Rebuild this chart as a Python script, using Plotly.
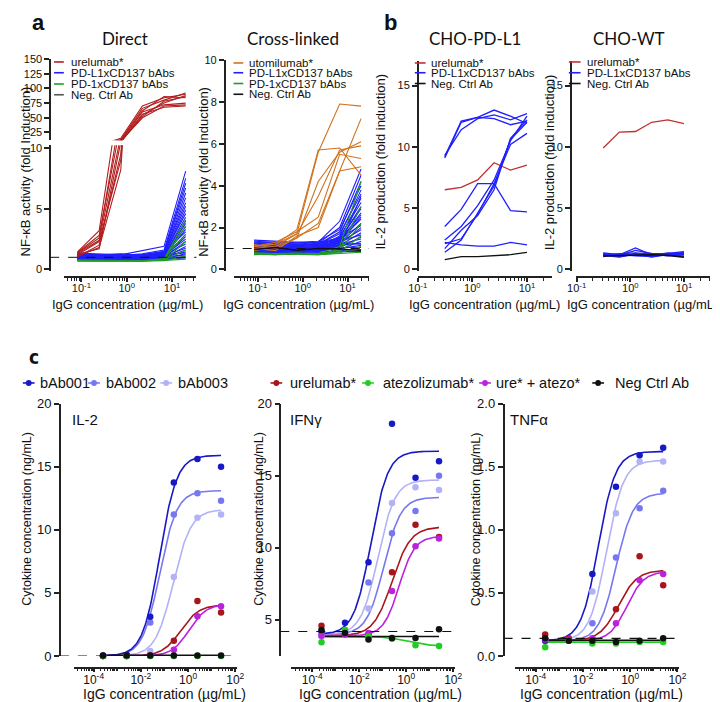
import numpy as np
import plotly.graph_objects as go

W, H = 720, 702
FONT = "Liberation Sans, Arial, sans-serif"
TFONT = "Lato, Carlito, sans-serif"


def px(x):
    return x / W


def py(y):
    return 1 - y / H


# ======================= DATA =======================
# ---- panel a : NF-kB reporter ----
conc_a = [0.082, 0.247, 0.74, 2.22, 6.67, 20]

direct_urelumab = [
    [1.45, 3.2, 15.0, 70, 84, 90],
    [1.35, 2.6, 13.0, 66, 80, 92],
    [1.20, 2.3, 9.0, 52, 78, 86],
    [1.10, 1.8, 8.2, 55, 75, 88],
    [1.40, 2.8, 12.0, 62, 86, 84],
    [1.25, 1.7, 10.5, 50, 70, 72],
    [1.30, 2.4, 11.0, 60, 72, 75],
    [1.05, 2.0, 9.5, 56, 68, 70],
]
direct_pdl1 = [
    [1.25, 1.10, 1.20, 1.55, 1.90, 8.10], [1.10, 1.05, 1.15, 1.30, 1.60, 7.50],
    [0.95, 1.00, 1.05, 1.10, 1.45, 7.10], [1.30, 1.20, 1.25, 1.20, 1.50, 6.70],
    [1.05, 0.95, 1.00, 1.05, 1.35, 6.30], [0.90, 0.90, 0.95, 1.00, 1.30, 5.90],
    [1.15, 1.10, 1.05, 1.10, 1.40, 5.50], [1.00, 1.05, 1.00, 0.95, 1.25, 5.20],
    [0.85, 0.90, 0.85, 0.95, 1.20, 4.90], [1.20, 1.15, 1.10, 1.15, 1.30, 4.60],
    [0.95, 0.85, 0.90, 0.90, 1.15, 4.30], [1.10, 1.00, 1.05, 1.00, 1.20, 4.00],
    [0.80, 0.85, 0.80, 0.85, 1.10, 3.80], [1.05, 1.10, 1.00, 1.05, 1.25, 3.50],
    [0.90, 0.95, 0.95, 0.90, 1.10, 3.30], [1.35, 1.25, 1.20, 1.25, 1.45, 3.10],
    [1.00, 0.90, 0.95, 1.00, 1.05, 2.90], [0.85, 0.80, 0.90, 0.85, 1.00, 2.70],
    [1.15, 1.05, 1.10, 1.05, 1.15, 2.50], [0.95, 1.00, 0.90, 0.95, 1.00, 2.30],
    [1.05, 0.95, 1.00, 1.10, 1.20, 2.10], [0.80, 0.85, 0.85, 0.80, 0.95, 1.90],
    [1.20, 1.10, 1.15, 1.10, 1.10, 1.75], [0.90, 0.90, 0.85, 0.90, 0.95, 1.60],
    [1.00, 1.05, 1.05, 1.00, 1.05, 1.45], [0.85, 0.95, 0.90, 0.95, 0.90, 1.30],
    [1.10, 1.00, 0.95, 1.05, 1.00, 1.20], [0.95, 0.85, 0.80, 0.85, 0.85, 1.05],
    [0.75, 0.80, 0.80, 0.75, 0.85, 0.95], [1.25, 1.20, 1.30, 1.15, 1.25, 1.35],
]
direct_pd1 = [
    [0.75, 0.70, 0.72, 0.70, 0.85, 4.10], [0.70, 0.72, 0.70, 0.68, 0.80, 3.60],
    [0.78, 0.75, 0.74, 0.72, 0.90, 2.90], [0.72, 0.68, 0.70, 0.70, 0.75, 2.30],
    [0.74, 0.72, 0.76, 0.74, 0.78, 1.60], [0.70, 0.70, 0.68, 0.66, 0.72, 1.10],
    [0.76, 0.74, 0.72, 0.70, 0.74, 0.85],
]
direct_neg = [1.00, 0.95, 1.00, 0.98, 1.00, 1.00]

cross_utomilumab = [
    [1.10, 1.20, 1.90, 5.70, 5.80, 4.50],
    [1.00, 1.10, 1.70, 5.60, 7.90, 7.80],
    [1.20, 1.00, 1.50, 4.20, 5.60, 6.10],
    [1.10, 1.30, 1.80, 2.50, 5.50, 5.30],
    [0.90, 1.10, 1.50, 2.20, 4.70, 7.20],
    [1.00, 0.90, 1.60, 2.00, 4.70, 4.90],
    [1.10, 1.20, 1.70, 3.50, 5.70, 5.90],
]
cross_pdl1 = [
    [1.30, 1.25, 1.20, 1.30, 2.30, 4.80], [1.10, 1.15, 1.10, 1.25, 2.00, 4.50],
    [0.95, 1.00, 1.05, 1.20, 1.80, 4.20], [1.20, 1.25, 1.30, 1.35, 1.90, 4.00],
    [0.85, 0.90, 0.95, 1.05, 1.60, 3.80], [1.05, 1.10, 1.15, 1.20, 1.70, 3.60],
    [0.90, 0.95, 0.90, 1.00, 1.50, 3.40], [1.15, 1.05, 1.10, 1.15, 1.55, 3.20],
    [0.80, 0.85, 0.90, 0.95, 1.40, 3.00], [1.25, 1.20, 1.15, 1.25, 1.45, 2.90],
    [1.00, 0.95, 1.00, 1.05, 1.35, 2.70], [0.75, 0.80, 0.85, 0.90, 1.30, 2.50],
    [1.10, 1.00, 1.05, 1.10, 1.40, 2.40], [0.95, 0.90, 0.95, 1.00, 1.25, 2.20],
    [1.35, 1.30, 1.25, 1.30, 1.50, 2.10], [0.85, 0.80, 0.85, 0.90, 1.20, 2.00],
    [1.05, 1.10, 1.00, 1.05, 1.30, 1.90], [0.90, 0.85, 0.90, 0.85, 1.15, 1.75],
    [1.20, 1.15, 1.20, 1.15, 1.35, 1.65], [0.80, 0.75, 0.80, 0.85, 1.05, 1.55],
    [1.00, 1.05, 1.10, 1.00, 1.20, 1.45], [0.70, 0.75, 0.75, 0.80, 0.95, 1.35],
    [1.15, 1.20, 1.05, 1.10, 1.15, 1.25], [0.90, 0.95, 0.85, 0.90, 1.00, 1.15],
    [1.10, 1.00, 0.95, 1.00, 1.05, 1.05], [0.75, 0.70, 0.80, 0.75, 0.90, 0.95],
    [1.25, 1.30, 1.20, 1.20, 1.25, 1.20], [0.85, 0.90, 0.75, 0.80, 0.85, 0.85],
    [1.40, 1.35, 1.30, 1.25, 1.40, 2.60], [0.95, 1.00, 1.05, 0.95, 1.10, 3.50],
]
cross_pd1 = [
    [0.78, 0.72, 0.75, 0.76, 1.10, 4.20], [0.75, 0.74, 0.72, 0.74, 0.95, 3.00],
    [0.80, 0.76, 0.78, 0.75, 0.90, 2.20], [0.72, 0.70, 0.74, 0.72, 0.85, 1.60],
    [0.76, 0.74, 0.70, 0.70, 0.80, 1.10], [0.74, 0.72, 0.73, 0.71, 0.76, 0.82],
]
cross_neg = [0.95, 1.05, 0.92, 1.00, 0.98, 0.90]
baseline_a = 1.0

# ---- panel b : IL-2 production ----
conc_b = [0.3125, 0.625, 1.25, 2.5, 5, 10]
pdl1_urelumab = [6.5, 6.7, 7.3, 8.7, 8.1, 8.5]
pdl1_babs = [
    [9.2, 12.1, 12.4, 13.0, 12.5, 11.9],
    [9.3, 11.4, 12.3, 12.6, 12.2, 12.7],
    [9.1, 12.0, 12.4, 12.3, 11.8, 12.1],
    [3.5, 4.9, 7.0, 7.0, 4.8, 4.7],
    [2.4, 3.5, 5.2, 7.3, 10.5, 12.5],
    [2.1, 2.5, 4.5, 7.0, 10.2, 11.1],
    [1.7, 3.2, 4.4, 6.5, 10.7, 12.2],
    [1.4, 2.4, 4.6, 6.8, 10.6, 12.0],
    [2.2, 2.0, 1.9, 1.9, 2.2, 2.0],
]
pdl1_neg = [0.8, 1.05, 1.05, 1.1, 1.2, 1.4]
wt_urelumab = [9.9, 11.2, 11.25, 12.0, 12.2, 11.9]
wt_babs = [
    [1.35, 1.20, 1.75, 1.20, 1.30, 1.45], [1.25, 1.15, 1.55, 1.30, 1.25, 1.35],
    [1.20, 1.05, 1.30, 1.00, 1.20, 1.40], [1.10, 1.25, 1.15, 1.15, 1.35, 1.20],
    [1.30, 1.10, 1.20, 1.25, 1.15, 1.10], [1.15, 1.00, 1.25, 1.20, 1.20, 1.30],
    [1.05, 1.20, 1.10, 1.05, 1.25, 1.05], [1.20, 1.30, 1.35, 1.25, 1.10, 1.25],
]
wt_neg = [1.10, 1.15, 1.20, 1.20, 1.15, 1.00]

# ---- panel c : cytokines ----
conc_c = [0.00025, 0.0025, 0.025, 0.25, 2.5, 25]
series_c = ["bAb001", "bAb002", "bAb003", "urelumab*", "atezolizumab*",
            "ure* + atezo*", "Neg Ctrl Ab"]

il2_points = [
    [0.05, 0.10, 3.10, 13.75, 15.60, 15.00],
    [0.00, 0.05, 2.65, 11.20, 12.90, 12.30],
    [0.00, 0.00, 0.40, 6.25, 10.95, 11.20],
    [0.00, 0.00, 0.05, 1.20, 4.35, 3.45],
    [0.00, 0.00, 0.00, 0.00, 0.00, 0.00],
    [0.00, 0.00, 0.05, 0.50, 3.15, 3.95],
    [0.05, 0.05, 0.05, 0.05, 0.05, 0.05],
]
il2_bottom = [0.0, 0.0, 0.0, 0.0, 0.0, 0.0, 0.05]
il2_top = [15.9, 13.1, 11.6, 4.05, 0.0, 4.1, 0.05]
il2_logec50 = [-1.2, -1.2, -0.63, -0.31, 0.0, 0.04, 0.0]
il2_hill = [1.2, 1.2, 1.15, 1.13, 1.0, 1.2, 1.0]

ifn_points = [
    [4.20, 4.80, 9.00, 18.60, 14.85, 16.00],
    [3.95, 4.30, 7.60, 11.00, 12.55, 15.00],
    [3.85, 4.10, 5.80, 13.10, 14.20, 14.00],
    [4.60, 4.00, 4.00, 8.30, 11.60, 10.75],
    [3.45, 4.30, 3.85, 3.70, 3.25, 3.20],
    [3.90, 4.00, 4.10, 7.00, 10.10, 10.65],
    [4.30, 4.10, 3.65, 3.75, 3.75, 4.35],
]
ifn_bottom = [4.0, 4.0, 4.0, 3.9, 3.85, 3.9, 3.85]
ifn_top = [16.7, 13.5, 14.7, 11.45, 3.2, 10.8, 3.85]
ifn_logec50 = [-1.5, -0.95, -1.2, -0.6, 0.0, -0.3, 0.0]
ifn_hill = [1.2, 1.2, 1.2, 1.1, 1.0, 1.3, 1.0]

tnf_points = [
    [0.12, 0.13, 0.65, 1.34, 1.59, 1.65],
    [0.12, 0.12, 0.26, 0.78, 1.17, 1.31],
    [0.12, 0.13, 0.51, 1.13, 1.54, 1.54],
    [0.17, 0.14, 0.13, 0.37, 0.79, 0.56],
    [0.07, 0.12, 0.10, 0.10, 0.11, 0.11],
    [0.13, 0.13, 0.14, 0.26, 0.60, 0.65],
    [0.14, 0.12, 0.12, 0.11, 0.12, 0.14],
]
tnf_bottom = [0.12, 0.12, 0.12, 0.12, 0.11, 0.12, 0.125]
tnf_top = [1.62, 1.29, 1.55, 0.68, 0.11, 0.67, 0.125]
tnf_logec50 = [-1.35, -0.6, -1.0, -0.5, 0.0, -0.14, 0.0]
tnf_hill = [1.2, 1.2, 1.2, 1.1, 1.0, 1.2, 1.0]

baseline_c = [0.0, 4.2, 0.14]

# ======================= STYLE =======================
RED = "#b21e1e"
BLUE = "#1f1fff"
GREEN = "#1f9e1f"
ORANGE = "#d0721e"
NEG = "#222222"
colors_c = ["#1818c4", "#7777f2", "#b2b2f7", "#a8161b", "#22cc22", "#bb22dd", "#111111"]

fig = go.Figure()


def add_lines(conc, rows, color, xa, ya, width=1.1):
    for r in rows:
        fig.add_trace(go.Scatter(x=conc, y=r, mode="lines",
                                 line=dict(color=color, width=width),
                                 xaxis=xa, yaxis=ya, hoverinfo="skip",
                                 showlegend=False))


# --- Direct ---
add_lines(conc_a, [direct_neg], NEG, "x", "y")
add_lines(conc_a, direct_pdl1, BLUE, "x", "y")
add_lines(conc_a, direct_pd1, GREEN, "x", "y")
add_lines(conc_a, direct_urelumab, RED, "x", "y")
add_lines(conc_a, direct_urelumab, RED, "x", "y2")
# --- Cross-linked ---
add_lines(conc_a, cross_pdl1, BLUE, "x2", "y3")
add_lines(conc_a, cross_pd1, GREEN, "x2", "y3")
add_lines(conc_a, cross_utomilumab, ORANGE, "x2", "y3")
add_lines(conc_a, [cross_neg], "#111111", "x2", "y3", 1.4)
# --- CHO-PD-L1 ---
add_lines(conc_b, [pdl1_urelumab], "#c03030", "x3", "y4", 1.3)
add_lines(conc_b, pdl1_babs, BLUE, "x3", "y4", 1.3)
add_lines(conc_b, [pdl1_neg], "#111111", "x3", "y4", 1.3)
# --- CHO-WT ---
add_lines(conc_b, [wt_urelumab], "#c03030", "x4", "y5", 1.3)
add_lines(conc_b, wt_babs, BLUE, "x4", "y5", 1.3)
add_lines(conc_b, [wt_neg], "#111111", "x4", "y5", 1.6)


def fit_curve(bottom, top, ec, hill):
    xs = np.logspace(np.log10(conc_c[0]), np.log10(conc_c[-1]), 160)
    ys = bottom + (top - bottom) / (1 + 10 ** ((ec - np.log10(xs)) * hill))
    return xs, ys


def add_cyto(points, bottom, top, ec, hill, xa, ya):
    order = [1, 2, 0, 3, 5, 4, 6]
    for i in order:
        xs, ys = fit_curve(bottom[i], top[i], ec[i], hill[i])
        fig.add_trace(go.Scatter(x=xs, y=ys, mode="lines",
                                 line=dict(color=colors_c[i], width=1.6),
                                 xaxis=xa, yaxis=ya, hoverinfo="skip",
                                 showlegend=False, cliponaxis=False))
    for i in order:
        fig.add_trace(go.Scatter(x=conc_c, y=points[i], mode="markers",
                                 marker=dict(color=colors_c[i], size=6.5),
                                 xaxis=xa, yaxis=ya, hoverinfo="skip",
                                 showlegend=False, cliponaxis=False))


add_cyto(il2_points, il2_bottom, il2_top, il2_logec50, il2_hill, "x5", "y6")
add_cyto(ifn_points, ifn_bottom, ifn_top, ifn_logec50, ifn_hill, "x6", "y7")
add_cyto(tnf_points, tnf_bottom, tnf_top, tnf_logec50, tnf_hill, "x7", "y8")

# ======================= AXES =======================
AXC = "#222222"
minor_ab = [k * 10.0 ** e for e in range(-2, 3) for k in range(2, 10)]
minor_c = [k * 10.0 ** e for e in range(-6, 3) for k in range(2, 10)] + \
          [1e-5, 1e-3, 1e-1, 10]


def xax(x0, x1, rng, ypos, vals, fs, minor):
    texts = ["10<sup>%d</sup>" % int(round(np.log10(v))) for v in vals]
    return dict(type="log", domain=[px(x0), px(x1)], range=rng, anchor="free",
                position=py(ypos), showline=True, linecolor=AXC, linewidth=1.5,
                ticks="outside", ticklen=4, tickwidth=1.5, tickcolor=AXC,
                tickvals=vals, ticktext=texts, ticklabelstandoff=-3,
                tickfont=dict(size=fs, family=FONT, color="#111"),
                minor=dict(tickvals=minor, ticks="outside", ticklen=2.5,
                           tickwidth=1, tickcolor=AXC),
                showgrid=False, zeroline=False, fixedrange=True)


def yax(y0, y1, rng, xpos, vals, fs, fmt=None):
    d = dict(domain=[py(y0), py(y1)], range=rng, anchor="free", position=px(xpos),
             showline=True, linecolor=AXC, linewidth=1.5, ticks="outside",
             ticklen=5, tickwidth=1.5, tickcolor=AXC, tickvals=vals,
             tickfont=dict(size=fs, family=FONT, color="#111"),
             showgrid=False, zeroline=False, fixedrange=True)
    if fmt:
        d["tickformat"] = fmt
    return d


layout = dict(
    width=W, height=H, margin=dict(l=0, r=0, t=0, b=0),
    paper_bgcolor="white", plot_bgcolor="white", showlegend=False,
    xaxis=xax(47, 183, [-1.387, 1.538], 268, [0.1, 1, 10], 11, minor_ab),
    yaxis=yax(262, 133, [-0.16, 10.24], 33, [0, 5, 10], 11),
    yaxis2=yax(128, 45, [11.67, 150], 33, [25, 50, 75, 100, 125, 150], 11),
    xaxis2=xax(222, 360, [-1.522, 1.478], 268, [0.1, 1, 10], 11, minor_ab),
    yaxis3=yax(262, 46, [-0.093, 10], 212, [0, 2, 4, 6, 8, 10], 11),
    xaxis3=xax(410, 548, [-1.0, 1.464], 268, [0.1, 1, 10], 11, minor_ab),
    yaxis4=yax(262, 47, [-0.16, 17.0], 410, [0, 5, 10, 15], 11),
    xaxis4=xax(572, 710, [-1.018, 1.49], 268, [0.1, 1, 10], 11, minor_ab),
    yaxis5=yax(262, 47, [-0.16, 17.0], 567, [0, 5, 10, 15], 11),
    xaxis5=xax(57, 225, [-4.85, 2.09], 667, [1e-4, 1e-2, 1, 100], 12, minor_c),
    yaxis6=yax(655, 397, [0, 20], 43, [0, 5, 10, 15, 20], 13),
    xaxis6=xax(280, 448, [-4.9, 2.07], 667, [1e-4, 1e-2, 1, 100], 12, minor_c),
    yaxis7=yax(655, 397, [2.5, 20], 269, [5, 10, 15, 20], 13),
    xaxis7=xax(510, 678, [-4.87, 2.07], 667, [1e-4, 1e-2, 1, 100], 12, minor_c),
    yaxis8=yax(655, 397, [0, 2], 498, [0, 0.5, 1.0, 1.5, 2.0], 13, ".1f"),
)
fig.update_layout(**layout)

# ======================= SHAPES / ANNOTATIONS =======================
shapes = []
ann = []


def text(x, y, s, size=12, xanchor="center", family=FONT, angle=0, color="#111",
         bold=False):
    if bold:
        s = "<b>%s</b>" % s
    ann.append(dict(x=px(x), y=py(y), xref="paper", yref="paper", text=s,
                    showarrow=False, xanchor=xanchor, yanchor="middle",
                    textangle=angle, font=dict(size=size, family=family, color=color)))


def hline(x0, x1, y, color, width=1.5, dash=None, yref="paper"):
    ln = dict(color=color, width=width)
    if dash:
        ln["dash"] = dash
    shapes.append(dict(type="line", xref="paper", yref=yref, x0=px(x0), x1=px(x1),
                       y0=py(y) if yref == "paper" else y,
                       y1=py(y) if yref == "paper" else y, line=ln))


# dashed baselines
hline(33, 183, baseline_a, "#111", 1, "dash", "y")
hline(212, 360, baseline_a, "#111", 1, "dash", "y3")
hline(43, 227, baseline_c[0], "#111", 1.2, "dash", "y6")
hline(269, 450, baseline_c[1], "#111", 1.2, "dash", "y7")
hline(498, 680, baseline_c[2], "#111", 1.2, "dash", "y8")

# panel letters / titles
text(21, 8, "a", 22, bold=True)
text(382, 8, "b", 22, bold=True)
text(16, 349, "c", 19, family="DejaVu Sans Condensed, DejaVu Sans", bold=True)
text(110, 24, "Direct", 17, family=TFONT)
text(282, 24, "Cross-linked", 17, family=TFONT)
text(469, 24, "CHO-PD-L1", 17, family=TFONT)
text(627, 24, "CHO-WT", 17, family=TFONT)

# axis titles
for cx in (112, 288, 478, 640):
    text(cx, 296, "IgG concentration (µg/mL)", 13)
text(8, 160, "NF-κB activity (fold Induction)", 13, angle=-90)
text(190, 160, "NF-κB activity (fold Induction)", 13, angle=-90)
text(372, 150, "IL-2 production (fold induction)", 13, angle=-90)
text(545, 150, "IL-2 production (fold induction)", 13, angle=-90)
for cx in (150, 372, 598):
    text(cx, 694, "IgG concentration (µg/mL)", 14)
for cx in (9, 247, 470):
    text(cx, 515, "Cytokine concentration (ng/mL)", 12.5, angle=-90)

# cytokine labels
text(53, 413, "IL-2", 15, xanchor="left")
text(277, 413, "IFNγ", 15, xanchor="left")
text(503, 413, "TNFα", 15, xanchor="left")

# panel a/b legends
leg_direct = [("urelumab*", RED), ("PD-L1xCD137 bAbs", BLUE),
              ("PD-1xCD137 bAbs", GREEN), ("Neg. Ctrl Ab", "#555555")]
leg_cross = [("utomilumab*", ORANGE), ("PD-L1xCD137 bAbs", BLUE),
             ("PD-1xCD137 bAbs", GREEN), ("Neg. Ctrl Ab", "#111111")]
leg_b = [("urelumab*", "#c03030"), ("PD-L1xCD137 bAbs", BLUE),
         ("Neg. Ctrl Ab", "#111111")]


def small_legend(items, x0, x1, xt, ys):
    for (lab, col), yy in zip(items, ys):
        hline(x0, x1, yy, col, 1.6)
        text(xt, yy, lab, 11.5, xanchor="left")


small_legend(leg_direct, 37, 47, 52, [48, 59, 70.5, 81.5])
small_legend(leg_cross, 221, 231, 235, [49, 59, 70, 81])
small_legend(leg_b, 407, 418, 422, [49, 59, 70])
small_legend(leg_b, 565, 577, 582, [48, 59, 70])

# panel c legend
leg_c_sym = [11, 78, 152, 265, 359, 479, 595]
leg_c_txt = [21, 88, 162, 277, 372, 488, 610]
for lab, col, sx, tx in zip(series_c, colors_c, leg_c_sym, leg_c_txt):
    hline(sx - 6, sx + 6, 376, col, 1.6)
    shapes.append(dict(type="circle", xref="paper", yref="paper",
                       x0=px(sx - 3), x1=px(sx + 3), y0=py(379), y1=py(373),
                       fillcolor=col, line=dict(width=0)))
    text(tx, 376, lab, 14.5, xanchor="left")

fig.update_layout(shapes=shapes, annotations=ann)
fig.write_html("out.html")
